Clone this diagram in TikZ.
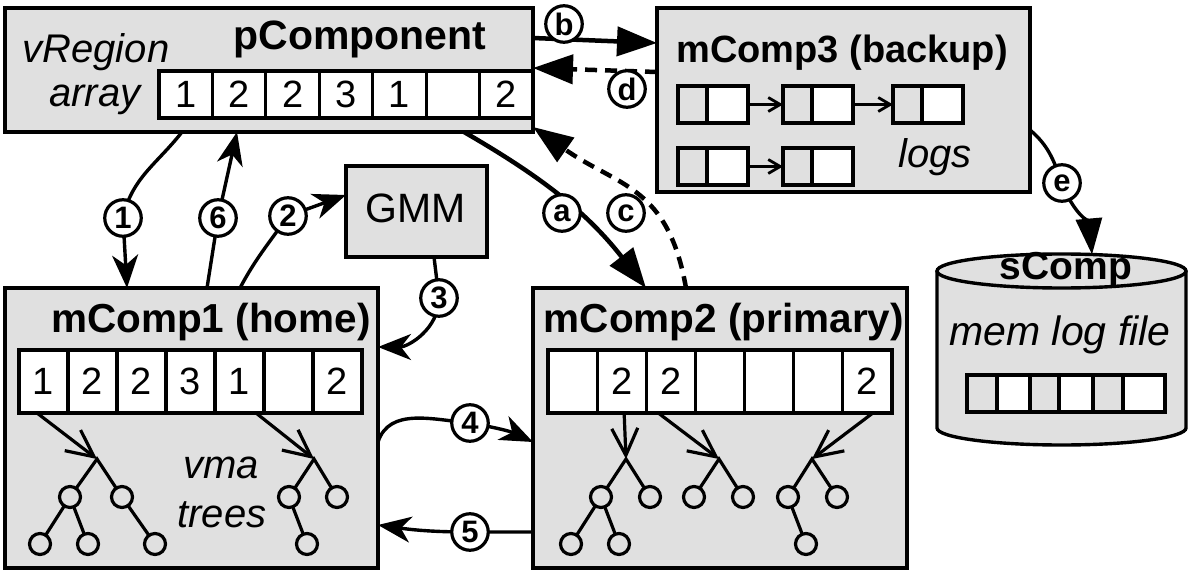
\documentclass[tikz,border=0pt]{standalone}
\usepackage{fontspec}
\setmainfont{Liberation Sans}
\usetikzlibrary{arrows.meta}
\definecolor{boxgray}{RGB}{224,224,224}
\pgfdeclarelayer{front}
\pgfsetlayers{main,front}
\begin{document}
\begin{tikzpicture}[x=1pt,y=1pt,
  box/.style={draw, line width=3.4pt, fill=boxgray, inner sep=0pt, outer sep=0pt, anchor=north west},
  cell/.style={draw, line width=3.2pt, fill=white, inner sep=0pt, outer sep=0pt, anchor=north west, font=\fontsize{38}{38}\selectfont},
  logcell/.style={draw, line width=3.2pt, inner sep=0pt, outer sep=0pt, anchor=north west, minimum height=37pt},
  ttl/.style={font=\fontsize{40.5}{40}\selectfont\bfseries, anchor=base, inner sep=0pt},
  itxt/.style={font=\fontsize{40}{40}\selectfont\itshape, anchor=base, inner sep=0pt},
  rtxt/.style={font=\fontsize{41}{41}\selectfont, anchor=base, inner sep=0pt},
  lbl/.style={circle, draw, line width=3.2pt, fill=white, inner sep=0pt, minimum size=36.5pt, font=\fontsize{31}{31}\selectfont\bfseries},
  leaf/.style={circle, draw, line width=3.2pt, fill=boxgray, inner sep=0pt, outer sep=0pt, minimum size=21pt},
  tline/.style={line width=3.2pt},
  tarrow/.style={line width=3.2pt, -{Straight Barb[length=27pt,width=26pt]}},
  conn/.style={line width=3.4pt, -{Stealth[length=33pt,width=26pt,inset=10pt]}},
  bigarrow/.style={line width=4.5pt, -{Triangle[length=40pt,width=29pt]}},
  dasharrow/.style={bigarrow, dash pattern=on 12pt off 8pt},
  tri3/.style={line width=3.4pt, -{Triangle[length=36pt,width=26pt]}},
  logarrow/.style={line width=2.8pt, -{Straight Barb[length=12pt,width=14pt]}},
]
\useasboundingbox (0,0) rectangle (1188,571);

% component boxes
\node[box, minimum width=528pt, minimum height=124pt] (pc) at (5,563) {};
\node[box, minimum width=373pt, minimum height=184pt] (m3) at (657,563) {};
\node[box, minimum width=141pt, minimum height=91pt] (gmm) at (346,405) {};
\node[box, minimum width=373pt, minimum height=280pt] (m1) at (5,283) {};
\node[box, minimum width=374pt, minimum height=280pt] (m2) at (533,283) {};

% storage cylinder
\node[inner sep=0pt, outer sep=0pt, minimum width=249pt, minimum height=157pt, anchor=north west] (sc) at (937,300) {};
\fill[boxgray] (sc.north west) -- (sc.south west)
  arc[start angle=180, end angle=360, x radius=124.5pt, y radius=17pt] -- (sc.north east)
  arc[start angle=0, end angle=180, x radius=124.5pt, y radius=17pt] -- cycle;
\draw[line width=3.4pt] (sc.north west) -- (sc.south west)
  arc[start angle=180, end angle=360, x radius=124.5pt, y radius=17pt] -- (sc.north east);
\draw[line width=3.4pt] (sc.north) ellipse[x radius=124.5pt, y radius=17pt];

% titles and captions
\node[ttl, font=\fontsize{41}{41}\selectfont\bfseries] (pct) at (360,521) {pComponent};
\node[itxt] (vr1) at (96,508) {vRegion};
\node[itxt] (vr2) at (95,464) {array};
\node[ttl] (m1t) at (211,239) {mComp1 (home)};
\node[ttl] (m2t) at (724,239) {mComp2 (primary)};
\node[ttl, font=\fontsize{38}{38}\selectfont\bfseries] (m3t) at (842,508) {mComp3 (backup)};
\node[rtxt] (gmmt) at (416,348) {GMM};
\node[ttl, font=\fontsize{39}{39}\selectfont\bfseries] (sct) at (1066,291) {sComp};
\node[itxt, font=\fontsize{41}{41}\selectfont\itshape] (scl) at (1060,226) {mem log file};
\node[itxt] (lgt) at (935,403) {logs};
\node[itxt] (vma) at (221,93) {vma};
\node[itxt] (trs) at (222,44) {trees};

% vRegion arrays
\foreach \v [count=\i] in {1,2,2,3,1,{},2}
  \node[cell, minimum width=53.43pt, minimum height=47pt] (pa\i) at ({159+(\i-1)*53.43},500) {\v};
\foreach \v [count=\i] in {1,2,2,3,1,{},2}
  \node[cell, minimum width=49pt, minimum height=63pt] (ma\i) at ({19+(\i-1)*49},221) {\v};
\foreach \v [count=\i] in {{},2,2,{},{},{},2}
  \node[cell, minimum width=49.14pt, minimum height=63pt] (mb\i) at ({548+(\i-1)*49.14},221) {\v};

% backup logs
\foreach \x/\y/\n in {678/485/1, 783/485/2, 893/485/3, 678/423/4, 783/423/5} {
  \node[logcell, fill=boxgray, minimum width=29pt] (lg\n) at (\x,\y) {};
  \node[logcell, fill=white, minimum width=41pt] (lw\n) at ({\x+29},\y) {};
}
\draw[logarrow] (lw1.east) -- (lg2.west);
\draw[logarrow] (lw2.east) -- (lg3.west);
\draw[logarrow] (lw4.east) -- (lg5.west);

% mem log file cells
\node[logcell, fill=boxgray, minimum width=30pt] (s1) at (967,196) {};
\node[logcell, fill=white, minimum width=33pt] (s2) at (997,196) {};
\node[logcell, fill=boxgray, minimum width=29pt] (s3) at (1030,196) {};
\node[logcell, fill=white, minimum width=34pt] (s4) at (1059,196) {};
\node[logcell, fill=boxgray, minimum width=30pt] (s5) at (1093,196) {};
\node[logcell, fill=white, minimum width=42pt] (s6) at (1123,196) {};

% vma trees in mComp1
\coordinate (ta1) at (97,112);
\node[leaf] (ta1l) at (70,74) {};
\node[leaf] (ta1r) at (122,74) {};
\node[leaf] (ta1ll) at (40,27) {};
\node[leaf] (ta1lr) at (88,27) {};
\node[leaf] (ta1rr) at (155,27) {};
\draw[tline] (ta1l) -- (ta1) -- (ta1r);
\draw[tline] (ta1l) -- (ta1ll);
\draw[tline] (ta1l) -- (ta1lr);
\draw[tline] (ta1r) -- (ta1rr);
\draw[tarrow] ([xshift=18pt]ma1.south west) -- (ta1);

\coordinate (ta2) at (314,112);
\node[leaf] (ta2l) at (289,74) {};
\node[leaf] (ta2r) at (337,74) {};
\node[leaf] (ta2lr) at (307,27) {};
\draw[tline] (ta2l) -- (ta2) -- (ta2r);
\draw[tline] (ta2l) -- (ta2lr);
\draw[tarrow] ([xshift=41pt]ma5.south west) -- (ta2);

% vma trees in mComp2
\coordinate (tb1) at (626,112);
\node[leaf] (tb1l) at (601,74) {};
\node[leaf] (tb1r) at (650,74) {};
\node[leaf] (tb1ll) at (571,27) {};
\node[leaf] (tb1lr) at (619,27) {};
\draw[tline] (tb1l) -- (tb1) -- (tb1r);
\draw[tline] (tb1l) -- (tb1ll);
\draw[tline] (tb1l) -- (tb1lr);
\draw[tarrow] ([xshift=27pt]mb2.south west) -- (tb1);

\coordinate (tb2) at (719,112);
\node[leaf] (tb2l) at (694,74) {};
\node[leaf] (tb2r) at (743,74) {};
\draw[tline] (tb2l) -- (tb2) -- (tb2r);
\draw[tarrow] ([xshift=12pt]mb3.south west) -- (tb2);

\coordinate (tb3) at (812,112);
\node[leaf] (tb3l) at (788,74) {};
\node[leaf] (tb3r) at (837,74) {};
\node[leaf] (tb3lr) at (806,27) {};
\draw[tline] (tb3l) -- (tb3) -- (tb3r);
\draw[tline] (tb3l) -- (tb3lr);
\draw[tarrow] ([xshift=30pt]mb7.south west) -- (tb3);

% step labels
\begin{pgfonlayer}{front}
\node[lbl] (c1) at (123,353) {1};
\node[lbl] (c6) at (218,353) {6};
\node[lbl] (c2) at (288,355) {2};
\node[lbl] (c3) at (439,273) {3};
\node[lbl] (c4) at (470,148) {4};
\node[lbl] (c5) at (470,39) {5};
\node[lbl] (ca) at (562,358) {a};
\node[lbl] (cc) at (626,358) {c};
\node[lbl] (cb) at (564,547) {b};
\node[lbl] (cd) at (627,482) {d};
\node[lbl] (ce) at (1062,388) {e};
\end{pgfonlayer}

% numbered steps
\draw[conn] ([xshift=177pt]pc.south west) to[out=-128,in=78] (c1.center) -- ([xshift=122pt]m1.north west);
\draw[conn] ([xshift=202pt]m1.north west) -- (c6.center) -- ([xshift=232pt]pc.south west);
\draw[conn] ([xshift=235pt]m1.north west) to[out=62,in=-125] (c2.center) -- ([yshift=-29pt]gmm.north west);
\draw[conn] ([xshift=88pt]gmm.south west) -- (c3.center) to[out=-90,in=0] ([yshift=-59pt]m1.north east);
\draw[conn] ([yshift=-154pt]m1.north east) to[out=72,in=175] (c4.center) to[out=-10,in=155] ([yshift=-154pt]m2.north west);
\draw[conn] ([yshift=-244pt]m2.north west) -- (c5.center) to[out=180,in=-8] ([yshift=-237pt]m1.north east);

% lettered steps
\draw[bigarrow] ([xshift=459pt]pc.south west) to[out=-30,in=128] ([xshift=113pt]m2.north west);
\draw[bigarrow] ([yshift=-30pt]pc.north east) -- ([yshift=-35pt]m3.north west);
\draw[dasharrow] ([xshift=153pt]m2.north west) to[out=100,in=-35,looseness=1.2] ([yshift=5pt]pc.south east);
\draw[dasharrow] ([yshift=-64pt]m3.north west) -- ([yshift=-60pt]pc.north east);
\draw[tri3] ([yshift=-122pt]m3.north east) to[out=-40,in=110] (ce.center) to[out=-70,in=95] ([xshift=30.5pt,yshift=16.5pt]sc.north);
\end{tikzpicture}
\end{document}
